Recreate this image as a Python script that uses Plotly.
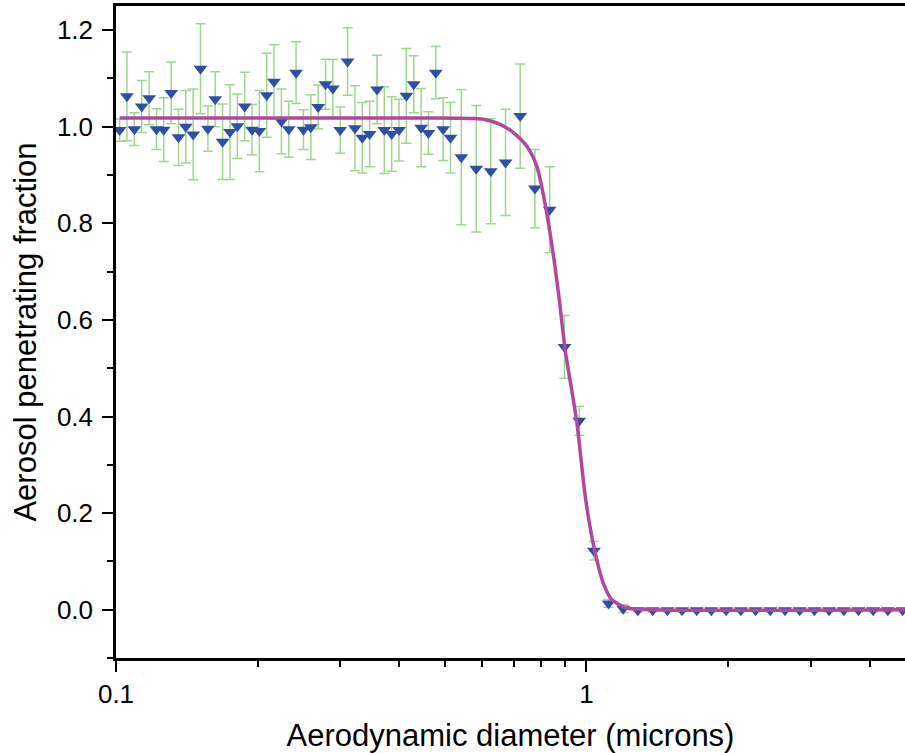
import plotly.graph_objects as go

# SMPS channels (microns) and measured penetration
smps_x = [0.1018, 0.1055, 0.1094, 0.1134, 0.1176, 0.1219, 0.1263, 0.1310, 0.1358, 0.1407,
          0.1459, 0.1512, 0.1568, 0.1625, 0.1685, 0.1747, 0.1811, 0.1877, 0.1946, 0.2017,
          0.2091, 0.2167, 0.2247, 0.2329, 0.2414, 0.2503, 0.2595, 0.2690, 0.2788, 0.2890,
          0.2996, 0.3106, 0.3220, 0.3338, 0.3460, 0.3587, 0.3718, 0.3854, 0.3995, 0.4142,
          0.4294, 0.4451, 0.4614, 0.4783, 0.4958, 0.5140]
smps_y = [0.993, 1.063, 0.995, 1.042, 1.059, 0.995, 0.994, 1.070, 0.978, 1.000,
          0.984, 1.120, 0.996, 1.057, 0.969, 0.989, 1.001, 1.042, 0.994, 0.991,
          1.065, 1.093, 1.011, 0.995, 1.112, 0.994, 0.999, 1.041, 1.088, 1.079,
          0.993, 1.135, 0.997, 0.977, 0.985, 1.077, 0.993, 0.985, 0.993, 1.064,
          1.088, 0.998, 0.987, 1.112, 0.995, 0.977]
smps_err = [0.023, 0.092, 0.034, 0.054, 0.055, 0.042, 0.066, 0.064, 0.058, 0.075,
            0.094, 0.093, 0.047, 0.057, 0.078, 0.098, 0.067, 0.071, 0.052, 0.084,
            0.087, 0.077, 0.067, 0.058, 0.064, 0.041, 0.067, 0.045, 0.052, 0.060,
            0.048, 0.070, 0.088, 0.073, 0.068, 0.071, 0.090, 0.077, 0.064, 0.098,
            0.059, 0.081, 0.044, 0.054, 0.065, 0.073]

# APS channels (microns) and measured penetration
aps_x = [0.542, 0.583, 0.626, 0.673, 0.723, 0.777, 0.835, 0.898, 0.965, 1.037,
         1.114, 1.197, 1.286, 1.382, 1.486, 1.596, 1.715, 1.843, 1.981, 2.129,
         2.288, 2.458, 2.642, 2.839, 3.051, 3.278, 3.523, 3.786, 4.068, 4.371, 4.698]
aps_y = [0.937, 0.913, 0.908, 0.926, 1.022, 0.872, 0.828, 0.544, 0.391, 0.122,
         0.013, 0.002, -0.001, -0.001, -0.001, -0.001, -0.001, -0.001, -0.001, -0.001,
         -0.001, -0.001, -0.001, -0.001, -0.001, -0.001, -0.001, -0.001, -0.001, -0.001, -0.001]
aps_err = [0.140, 0.131, 0.109, 0.110, 0.108, 0.081, 0.089, 0.065, 0.030, 0.019,
           0.008, 0.008, 0.003, 0.003, 0.003, 0.003, 0.003, 0.003, 0.003, 0.003,
           0.003, 0.003, 0.003, 0.003, 0.003, 0.003, 0.003, 0.003, 0.003, 0.003, 0.003]

# Fitted curve
fit_x = [0.1018, 0.488, 0.5746, 0.6034, 0.6550, 0.6991, 0.7464, 0.7837, 0.8030, 0.8229,
         0.8364, 0.8531, 0.8754, 0.9000, 0.9532, 0.9961, 1.0426, 1.0857, 1.1314, 1.2174,
         1.365, 4.75]
fit_y = [1.018, 1.018, 1.017, 1.0155, 1.005, 0.988, 0.960, 0.919, 0.877, 0.822,
         0.781, 0.725, 0.642, 0.541, 0.390, 0.228, 0.119, 0.055, 0.021, 0.0035,
         0.0, 0.0]

x_tickvals = [0.1, 1]
x_ticktext = ["0.1", "1"]
x_minor = [0.2, 0.3, 0.4, 0.5, 0.6, 0.7, 0.8, 0.9, 2, 3, 4]
y_tickvals = [0.0, 0.2, 0.4, 0.6, 0.8, 1.0, 1.2]

FONT = "Arial, Liberation Sans, sans-serif"
MARKER_COLOR = "#2E4FA3"
ERR_COLOR = "rgba(125,200,105,0.75)"
FIT_COLOR = "#B2479F"

fig = go.Figure()
for xs, ys, es in [(smps_x, smps_y, smps_err), (aps_x, aps_y, aps_err)]:
    fig.add_trace(go.Scatter(
        x=xs, y=ys, mode="markers",
        marker=dict(symbol="triangle-down", size=12, color=MARKER_COLOR,
                    line=dict(width=0)),
        error_y=dict(type="data", array=es, visible=True, color=ERR_COLOR,
                     thickness=1.5, width=5),
        showlegend=False))

fig.add_trace(go.Scatter(
    x=fit_x, y=fit_y, mode="lines",
    line=dict(color=FIT_COLOR, width=3.5, shape="spline", smoothing=0.7),
    showlegend=False))

fig.update_xaxes(
    type="log", range=[-1, 0.677],
    tickmode="array", tickvals=x_tickvals, ticktext=x_ticktext,
    ticks="outside", ticklen=11, tickwidth=2, tickcolor="black",
    minor=dict(tickmode="array", tickvals=x_minor, ticks="outside", ticklen=6,
               tickwidth=2, tickcolor="black", showgrid=False),
    showline=True, linewidth=2.5, linecolor="black", mirror=True,
    showgrid=False, zeroline=False,
    tickfont=dict(family=FONT, size=26, color="black"),
    title=dict(text="Aerodynamic diameter (microns)",
               font=dict(family=FONT, size=31, color="black"), standoff=20),
)
fig.update_yaxes(
    range=[-0.1, 1.25],
    tickmode="array", tickvals=y_tickvals, tickformat=".1f",
    ticks="outside", ticklen=11, tickwidth=2, tickcolor="black",
    ticklabelstandoff=4,
    minor=dict(tick0=-0.1, dtick=0.1, ticks="outside", ticklen=6,
               tickwidth=2, tickcolor="black", showgrid=False),
    showline=True, linewidth=2.5, linecolor="black", mirror=False,
    showgrid=False, zeroline=False,
    tickfont=dict(family=FONT, size=26, color="black"),
    title=dict(text="Aerosol penetrating fraction",
               font=dict(family=FONT, size=31, color="black"), standoff=12),
)
fig.update_layout(
    width=905, height=753,
    margin=dict(l=116, r=0, t=6, b=95),
    plot_bgcolor="white", paper_bgcolor="white",
    showlegend=False,
)
fig.write_html("out.html")
